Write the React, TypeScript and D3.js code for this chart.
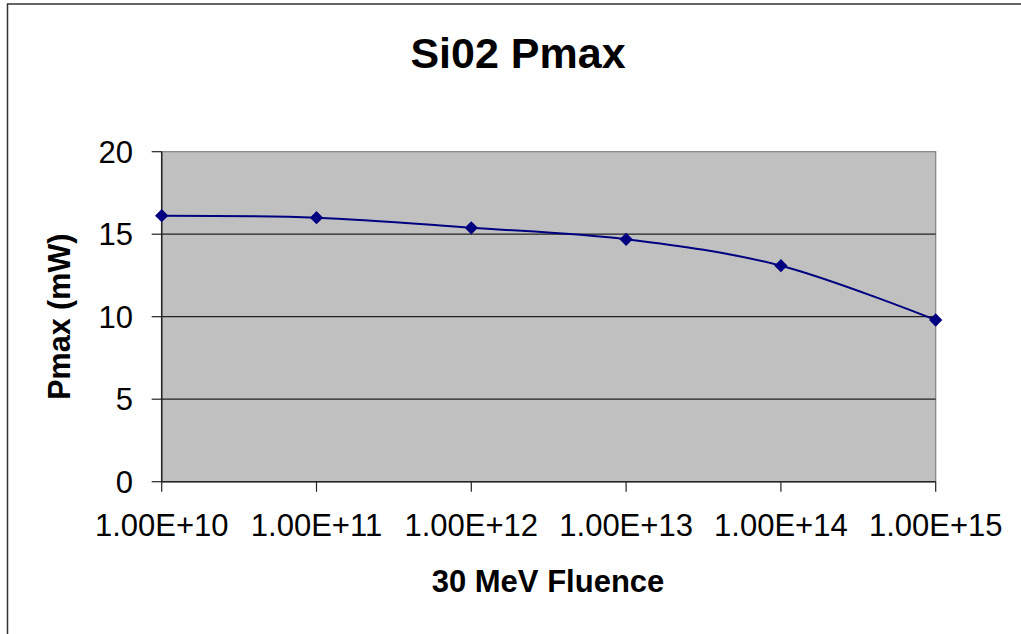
import { line, curveCatmullRom, scaleLinear, scaleLog, symbol, symbolSquare } from "d3";

const fluence = [1e10, 1e11, 1e12, 1e13, 1e14, 1e15];
const pmax = [16.12, 16.0, 15.39, 14.69, 13.09, 9.8];
const xTickLabels = ["1.00E+10", "1.00E+11", "1.00E+12", "1.00E+13", "1.00E+14", "1.00E+15"];
const yTicks = [0, 5, 10, 15, 20];

const W = 1021;
const H = 634;
const plot = { left: 161.7, right: 935.7, top: 151.7, bottom: 481.7 };

const font = "Arial, 'Liberation Sans', sans-serif";

export default function App() {
  const x = scaleLog().domain([1e10, 1e15]).range([plot.left, plot.right]);
  const y = scaleLinear().domain([0, 20]).range([plot.bottom, plot.top]);

  const points: [number, number][] = fluence.map((f, i) => [x(f), y(pmax[i])]);
  const path = line().curve(curveCatmullRom.alpha(0))(points) ?? "";
  // square turned 45° gives Excel's diamond marker
  const diamond = symbol().type(symbolSquare).size(88)() ?? "";

  return (
    <svg
      width={W}
      height={H}
      style={{ position: "absolute", left: 0, top: 0, display: "block", background: "#fff" }}
    >
      {/* outer chart frame, runs off the right and bottom edges */}
      <rect x={7.5} y={4} width={W + 50} height={H + 50} fill="#fff" stroke="#333" strokeWidth={1.5} />

      <text x={518} y={68} textAnchor="middle" fontFamily={font} fontWeight="bold" fontSize={43}>
        Si02 Pmax
      </text>

      {/* plot area */}
      <rect
        x={plot.left}
        y={plot.top}
        width={plot.right - plot.left}
        height={plot.bottom - plot.top}
        fill="#c0c0c0"
        stroke="#808080"
        strokeWidth={1.2}
      />
      {yTicks
        .filter((t) => t > 0 && t < 20)
        .map((t) => (
          <line key={t} x1={plot.left} x2={plot.right} y1={y(t)} y2={y(t)} stroke="#222" strokeWidth={1.2} />
        ))}

      {/* axes */}
      <line x1={plot.left} x2={plot.left} y1={plot.top} y2={plot.bottom} stroke="#222" strokeWidth={1.5} />
      <line x1={plot.left} x2={plot.right} y1={plot.bottom} y2={plot.bottom} stroke="#222" strokeWidth={1.5} />

      {yTicks.map((t) => (
        <g key={t}>
          <line x1={plot.left - 10} x2={plot.left} y1={y(t)} y2={y(t)} stroke="#222" strokeWidth={1.2} />
          <text x={133} y={y(t)} dy="0.36em" textAnchor="end" fontFamily={font} fontSize={31}>
            {t}
          </text>
        </g>
      ))}

      {fluence.map((f, i) => (
        <g key={f}>
          <line x1={x(f)} x2={x(f)} y1={plot.bottom} y2={plot.bottom + 10} stroke="#222" strokeWidth={1.2} />
          <text x={x(f)} y={536} textAnchor="middle" fontFamily={font} fontSize={31}>
            {xTickLabels[i]}
          </text>
        </g>
      ))}

      <text x={548} y={592} textAnchor="middle" fontFamily={font} fontWeight="bold" fontSize={31}>
        30 MeV Fluence
      </text>
      <text
        transform={`translate(70, ${(plot.top + plot.bottom) / 2}) rotate(-90)`}
        textAnchor="middle"
        fontFamily={font}
        fontWeight="bold"
        fontSize={30.5}
      >
        Pmax (mW)
      </text>

      <path d={path} fill="none" stroke="#000080" strokeWidth={2} />
      {points.map(([px, py], i) => (
        <path key={i} d={diamond} transform={`translate(${px},${py}) rotate(45)`} fill="#000080" />
      ))}
    </svg>
  );
}
